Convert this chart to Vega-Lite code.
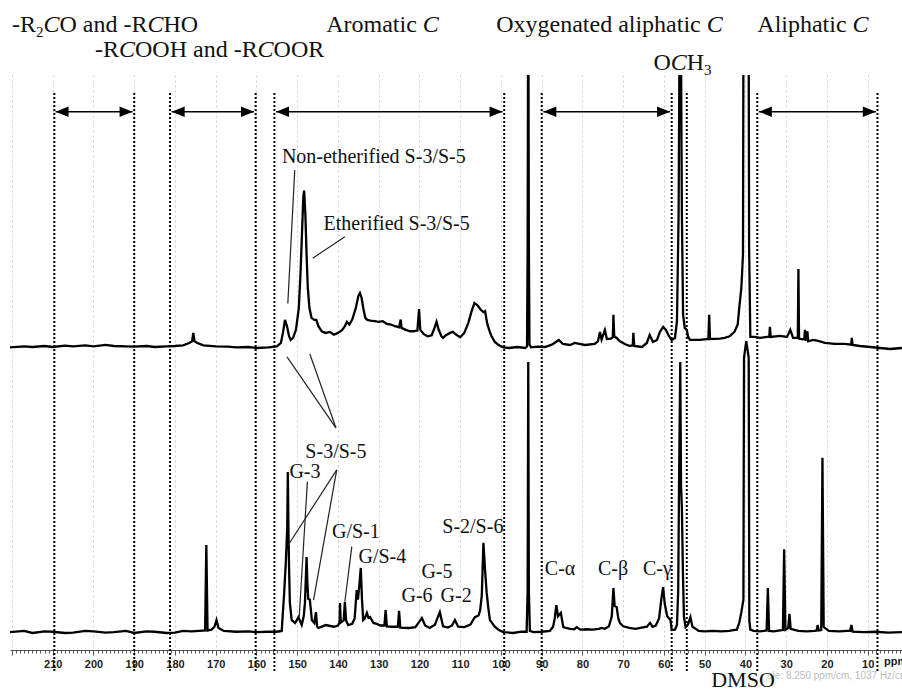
{
  "$schema": "https://vega.github.io/schema/vega-lite/v6.json",
  "width": 892,
  "height": 575,
  "padding": {"left": 10, "top": 75, "right": 0, "bottom": 41},
  "autosize": {"type": "none"},
  "background": "white",
  "config": {"view": {"stroke": null}},
  "datasets": {
    "top": [
      {"ppm":220.5,"v":0.2},{"ppm":217,"v":0.5},{"ppm":215,"v":0.3},{"ppm":212,"v":0.6},{"ppm":210,"v":0.3},{"ppm":207,"v":0.7},{"ppm":205,"v":0.5},{"ppm":202,"v":0.8},{"ppm":200,"v":0.5},{"ppm":197,"v":0.9},{"ppm":195,"v":0.6},{"ppm":192,"v":0.5},{"ppm":190,"v":0.4},{"ppm":187,"v":0.6},{"ppm":185,"v":0.3},{"ppm":182,"v":0.5},{"ppm":180,"v":0.6},{"ppm":178,"v":0.8},{"ppm":176.5,"v":1.5},{"ppm":175.8,"v":2.0},{"ppm":175.5,"v":4.5},{"ppm":175.2,"v":2.0},{"ppm":174.5,"v":1.5},{"ppm":173,"v":0.8},{"ppm":170,"v":0.5},{"ppm":167,"v":0.4},{"ppm":165,"v":0.2},{"ppm":162,"v":0.3},{"ppm":160,"v":0.0},{"ppm":157,"v":0.2},{"ppm":155,"v":0.5},{"ppm":154,"v":1.5},{"ppm":153.5,"v":4.5},{"ppm":153.0,"v":8.4},{"ppm":152.5,"v":6.5},{"ppm":152.0,"v":3.5},{"ppm":151.6,"v":2.4},{"ppm":151.0,"v":3.0},{"ppm":150.3,"v":5.5},{"ppm":149.6,"v":12},{"ppm":149.2,"v":22},{"ppm":148.8,"v":35},{"ppm":148.5,"v":45},{"ppm":148.3,"v":47},{"ppm":148.0,"v":40},{"ppm":147.7,"v":28},{"ppm":147.4,"v":18},{"ppm":147.0,"v":12},{"ppm":146.5,"v":9},{"ppm":145.8,"v":8.4},{"ppm":145.3,"v":8.4},{"ppm":144.8,"v":6.5},{"ppm":144.0,"v":5.0},{"ppm":143.0,"v":4.5},{"ppm":142.0,"v":4.8},{"ppm":141.0,"v":4.0},{"ppm":140.0,"v":4.5},{"ppm":139.0,"v":5.3},{"ppm":138.3,"v":6.5},{"ppm":137.8,"v":7.8},{"ppm":137.2,"v":7.0},{"ppm":136.5,"v":8.5},{"ppm":135.6,"v":12},{"ppm":135.0,"v":15.5},{"ppm":134.6,"v":16.4},{"ppm":134.2,"v":15.0},{"ppm":133.8,"v":12},{"ppm":133.3,"v":9},{"ppm":132.8,"v":8.4},{"ppm":132.0,"v":8.2},{"ppm":131.0,"v":8.0},{"ppm":130.0,"v":7.8},{"ppm":129.0,"v":8.0},{"ppm":128.0,"v":7.2},{"ppm":127.0,"v":7.0},{"ppm":126.0,"v":6.5},{"ppm":125.0,"v":6.2},{"ppm":124.6,"v":8.5},{"ppm":124.4,"v":6.0},{"ppm":123.5,"v":5.5},{"ppm":122.3,"v":5.0},{"ppm":121.5,"v":5.0},{"ppm":120.5,"v":5.2},{"ppm":120.1,"v":11.6},{"ppm":119.8,"v":5.5},{"ppm":119.0,"v":4.2},{"ppm":118.0,"v":3.5},{"ppm":117.0,"v":3.8},{"ppm":116.3,"v":6.0},{"ppm":115.8,"v":7.8},{"ppm":115.3,"v":5.5},{"ppm":114.6,"v":3.5},{"ppm":114.2,"v":3.0},{"ppm":113.5,"v":3.8},{"ppm":112.5,"v":4.5},{"ppm":111.8,"v":4.8},{"ppm":111.0,"v":4.0},{"ppm":110.0,"v":3.2},{"ppm":109.0,"v":4.5},{"ppm":108.0,"v":7.5},{"ppm":107.2,"v":11},{"ppm":106.5,"v":13.4},{"ppm":105.8,"v":12.8},{"ppm":105.0,"v":11.5},{"ppm":104.3,"v":10.7},{"ppm":103.9,"v":11.0},{"ppm":103.4,"v":7.5},{"ppm":102.8,"v":5.0},{"ppm":102.3,"v":3.5},{"ppm":101.5,"v":1.8},{"ppm":100.5,"v":0.8},{"ppm":99.4,"v":0.2},{"ppm":98,"v":0.0},{"ppm":96,"v":0.3},{"ppm":94,"v":0.0},{"ppm":93.6,"v":0.5},{"ppm":93.45,"v":30},{"ppm":93.3,"v":120},{"ppm":93.15,"v":30},{"ppm":93.0,"v":1.0},{"ppm":92.6,"v":0.2},{"ppm":91,"v":0.4},{"ppm":89.2,"v":0.3},{"ppm":87.5,"v":1.0},{"ppm":85.8,"v":2.4},{"ppm":84.8,"v":1.2},{"ppm":83.1,"v":0.9},{"ppm":81.9,"v":1.5},{"ppm":79.4,"v":0.9},{"ppm":77.0,"v":1.2},{"ppm":76.2,"v":2.0},{"ppm":75.7,"v":4.8},{"ppm":75.3,"v":2.5},{"ppm":74.5,"v":5.4},{"ppm":74.0,"v":2.7},{"ppm":73.0,"v":2.8},{"ppm":72.55,"v":3.2},{"ppm":72.4,"v":9.9},{"ppm":72.2,"v":3.5},{"ppm":71.6,"v":3.0},{"ppm":70.8,"v":2.0},{"ppm":69.6,"v":1.2},{"ppm":68.4,"v":0.6},{"ppm":67.65,"v":0.8},{"ppm":67.5,"v":4.5},{"ppm":67.3,"v":0.6},{"ppm":65.4,"v":0.3},{"ppm":64.2,"v":1.5},{"ppm":63.5,"v":3.9},{"ppm":62.7,"v":1.8},{"ppm":61.7,"v":2.4},{"ppm":61.0,"v":4.8},{"ppm":60.2,"v":6.3},{"ppm":59.5,"v":5.4},{"ppm":58.8,"v":3.6},{"ppm":58.1,"v":2.4},{"ppm":57.3,"v":3.0},{"ppm":56.8,"v":8},{"ppm":56.4,"v":40},{"ppm":56.1,"v":110},{"ppm":55.9,"v":110},{"ppm":55.6,"v":40},{"ppm":55.3,"v":10},{"ppm":54.9,"v":6.0},{"ppm":54.4,"v":5.4},{"ppm":54.1,"v":3.5},{"ppm":53.6,"v":2.4},{"ppm":51.2,"v":2.4},{"ppm":49.1,"v":2.7},{"ppm":48.9,"v":9.9},{"ppm":48.7,"v":2.7},{"ppm":46.3,"v":2.8},{"ppm":45.1,"v":3.0},{"ppm":43.9,"v":3.5},{"ppm":42.7,"v":4.8},{"ppm":41.9,"v":7},{"ppm":41.5,"v":12.2},{"ppm":41.0,"v":18},{"ppm":40.6,"v":28},{"ppm":40.4,"v":150},{"ppm":39.3,"v":150},{"ppm":39.1,"v":30},{"ppm":38.8,"v":3.3},{"ppm":37.7,"v":3.3},{"ppm":36.4,"v":3.0},{"ppm":34.7,"v":3.3},{"ppm":34.15,"v":3.3},{"ppm":34.0,"v":6.3},{"ppm":33.8,"v":3.3},{"ppm":31.5,"v":3.6},{"ppm":29.8,"v":3.3},{"ppm":29.0,"v":5.4},{"ppm":28.3,"v":3.0},{"ppm":27.15,"v":3.0},{"ppm":27.0,"v":23.6},{"ppm":26.85,"v":2.8},{"ppm":26.0,"v":2.6},{"ppm":25.55,"v":2.7},{"ppm":25.4,"v":5.4},{"ppm":25.2,"v":2.5},{"ppm":24.95,"v":2.6},{"ppm":24.8,"v":5.0},{"ppm":24.6,"v":2.0},{"ppm":23.4,"v":2.4},{"ppm":22.4,"v":2.2},{"ppm":20.5,"v":1.5},{"ppm":18.1,"v":1.2},{"ppm":15.6,"v":1.2},{"ppm":14.05,"v":1.0},{"ppm":13.9,"v":3.0},{"ppm":13.7,"v":0.9},{"ppm":11.9,"v":0.6},{"ppm":9.4,"v":0.3},{"ppm":7.0,"v":0.0},{"ppm":4.5,"v":-0.3},{"ppm":1.6,"v":0.0}
    ],
    "bottom": [
      {"ppm":220.5,"v":0.2},{"ppm":217,"v":0.5},{"ppm":215,"v":0.0},{"ppm":212,"v":0.4},{"ppm":210,"v":0.3},{"ppm":207,"v":0.0},{"ppm":205,"v":0.1},{"ppm":202,"v":0.5},{"ppm":200,"v":0.4},{"ppm":197,"v":0.1},{"ppm":195,"v":0.2},{"ppm":192,"v":0.5},{"ppm":190,"v":0.0},{"ppm":187,"v":0.4},{"ppm":185,"v":0.3},{"ppm":182,"v":0.0},{"ppm":180,"v":0.1},{"ppm":178,"v":0.5},{"ppm":176,"v":0.4},{"ppm":174,"v":0.5},{"ppm":172.6,"v":0.6},{"ppm":172.3,"v":21.1},{"ppm":172.0,"v":0.6},{"ppm":171,"v":0.8},{"ppm":170.3,"v":1.5},{"ppm":169.8,"v":3.1},{"ppm":169.3,"v":1.2},{"ppm":168,"v":0.5},{"ppm":165,"v":0.3},{"ppm":162,"v":0.4},{"ppm":160,"v":0.2},{"ppm":157,"v":0.3},{"ppm":155,"v":0.3},{"ppm":153.8,"v":0.5},{"ppm":153.2,"v":9.6},{"ppm":152.8,"v":16.8},{"ppm":152.45,"v":25},{"ppm":152.3,"v":38.6},{"ppm":152.15,"v":25},{"ppm":152.0,"v":15.8},{"ppm":151.8,"v":7.2},{"ppm":151.35,"v":3.1},{"ppm":150.5,"v":2.4},{"ppm":149.7,"v":3.8},{"ppm":148.9,"v":1.9},{"ppm":148.4,"v":4},{"ppm":148.1,"v":7.2},{"ppm":147.7,"v":18.2},{"ppm":147.5,"v":12},{"ppm":147.3,"v":8.2},{"ppm":146.9,"v":8.0},{"ppm":146.4,"v":3.1},{"ppm":145.8,"v":2.4},{"ppm":145.4,"v":5.0},{"ppm":145.1,"v":1.5},{"ppm":144.8,"v":1.2},{"ppm":143,"v":1.9},{"ppm":141,"v":1.5},{"ppm":140,"v":1.8},{"ppm":139.6,"v":2.5},{"ppm":139.5,"v":7.2},{"ppm":139.3,"v":2.5},{"ppm":138.6,"v":3.0},{"ppm":138.3,"v":7.4},{"ppm":138.0,"v":3.0},{"ppm":137.5,"v":1.9},{"ppm":136.5,"v":2.2},{"ppm":135.9,"v":3.5},{"ppm":135.4,"v":10.3},{"ppm":135.1,"v":8},{"ppm":134.7,"v":12},{"ppm":134.4,"v":15.6},{"ppm":134.1,"v":8},{"ppm":133.8,"v":3.1},{"ppm":133.4,"v":3.5},{"ppm":132.9,"v":4.8},{"ppm":132.5,"v":3.6},{"ppm":132.1,"v":3.8},{"ppm":131.3,"v":2.4},{"ppm":130.5,"v":2.2},{"ppm":129.5,"v":1.8},{"ppm":128.6,"v":1.8},{"ppm":128.3,"v":5.5},{"ppm":128.0,"v":1.6},{"ppm":126.5,"v":1.5},{"ppm":125.3,"v":1.5},{"ppm":125.0,"v":5.3},{"ppm":124.7,"v":1.3},{"ppm":122.5,"v":1.2},{"ppm":121,"v":1.4},{"ppm":120.2,"v":2.5},{"ppm":119.4,"v":3.6},{"ppm":118.6,"v":1.8},{"ppm":117.5,"v":1.2},{"ppm":116.2,"v":2.0},{"ppm":115.0,"v":5.0},{"ppm":114.2,"v":1.6},{"ppm":113,"v":1.3},{"ppm":112,"v":1.8},{"ppm":111.3,"v":3.1},{"ppm":110.5,"v":1.5},{"ppm":109,"v":1.4},{"ppm":107.5,"v":2.0},{"ppm":106.4,"v":3.8},{"ppm":105.5,"v":4.2},{"ppm":105.1,"v":5.5},{"ppm":104.7,"v":9},{"ppm":104.3,"v":21.6},{"ppm":103.9,"v":15.1},{"ppm":103.5,"v":9.6},{"ppm":103.1,"v":6},{"ppm":102.7,"v":3.1},{"ppm":101.5,"v":1.5},{"ppm":100.5,"v":0.7},{"ppm":99.4,"v":0.2},{"ppm":97,"v":0.0},{"ppm":95,"v":0.3},{"ppm":93.7,"v":0.3},{"ppm":93.45,"v":10},{"ppm":93.3,"v":65},{"ppm":93.15,"v":10},{"ppm":92.9,"v":0.5},{"ppm":92,"v":0.2},{"ppm":90,"v":0.3},{"ppm":88,"v":0.5},{"ppm":87.2,"v":1.5},{"ppm":86.8,"v":3.5},{"ppm":86.4,"v":6.7},{"ppm":86.0,"v":4},{"ppm":85.3,"v":4.8},{"ppm":84.7,"v":1.4},{"ppm":84,"v":1.2},{"ppm":83,"v":1.0},{"ppm":82,"v":0.9},{"ppm":81.4,"v":1.4},{"ppm":80.5,"v":0.8},{"ppm":79,"v":0.9},{"ppm":77.5,"v":0.8},{"ppm":76,"v":1.0},{"ppm":75.3,"v":1.2},{"ppm":74.5,"v":1.0},{"ppm":73.5,"v":1.6},{"ppm":72.8,"v":4},{"ppm":72.4,"v":10.8},{"ppm":72.1,"v":6.5},{"ppm":71.6,"v":6.2},{"ppm":71.2,"v":3.5},{"ppm":70.8,"v":2.4},{"ppm":70,"v":1.6},{"ppm":68.5,"v":1.2},{"ppm":67,"v":1.0},{"ppm":65.5,"v":1.3},{"ppm":64.2,"v":1.5},{"ppm":63.4,"v":2.4},{"ppm":62.8,"v":1.5},{"ppm":62.0,"v":1.8},{"ppm":61.2,"v":3.5},{"ppm":60.6,"v":8.4},{"ppm":60.2,"v":11.0},{"ppm":59.8,"v":7},{"ppm":59.2,"v":4},{"ppm":58.4,"v":3.1},{"ppm":58.1,"v":0.7},{"ppm":57.3,"v":0.8},{"ppm":56.8,"v":2},{"ppm":56.5,"v":10},{"ppm":56.3,"v":35},{"ppm":56.0,"v":65},{"ppm":55.8,"v":35},{"ppm":55.6,"v":30},{"ppm":55.35,"v":15},{"ppm":55.1,"v":4},{"ppm":54.7,"v":1.4},{"ppm":54.1,"v":2.0},{"ppm":53.5,"v":3.8},{"ppm":53.0,"v":1.5},{"ppm":51.9,"v":0.8},{"ppm":51.5,"v":0.5},{"ppm":50,"v":0.4},{"ppm":48,"v":0.5},{"ppm":46,"v":0.4},{"ppm":44,"v":0.5},{"ppm":43,"v":0.7},{"ppm":42.1,"v":0.8},{"ppm":41.5,"v":2.5},{"ppm":41.0,"v":5},{"ppm":40.5,"v":8.0},{"ppm":40.35,"v":66},{"ppm":39.8,"v":70},{"ppm":39.2,"v":66},{"ppm":39.05,"v":3},{"ppm":38.8,"v":0.8},{"ppm":38,"v":0.5},{"ppm":36.5,"v":0.4},{"ppm":35.5,"v":0.5},{"ppm":34.8,"v":0.6},{"ppm":34.5,"v":10.8},{"ppm":34.2,"v":0.5},{"ppm":33,"v":0.4},{"ppm":31.5,"v":0.6},{"ppm":30.8,"v":0.7},{"ppm":30.5,"v":20.1},{"ppm":30.2,"v":0.8},{"ppm":29.5,"v":1.2},{"ppm":29.2,"v":4.6},{"ppm":28.9,"v":1.0},{"ppm":27,"v":0.5},{"ppm":25,"v":0.4},{"ppm":23,"v":0.5},{"ppm":22.5,"v":0.6},{"ppm":22.3,"v":1.9},{"ppm":22.0,"v":0.6},{"ppm":21.4,"v":0.7},{"ppm":21.1,"v":42.0},{"ppm":20.8,"v":1.5},{"ppm":20.5,"v":1.2},{"ppm":19.5,"v":0.5},{"ppm":17,"v":0.4},{"ppm":15,"v":0.5},{"ppm":14.3,"v":0.5},{"ppm":14.0,"v":1.9},{"ppm":13.7,"v":0.3},{"ppm":11,"v":0.2},{"ppm":8,"v":0.3},{"ppm":5,"v":0.1},{"ppm":1.6,"v":0.2}
    ],
    "dotted": [{"ppm":209.6},{"ppm":190.0},{"ppm":181.2},{"ppm":160.2},{"ppm":155.6},{"ppm":99.2},{"ppm":90.0},{"ppm":58.1},{"ppm":54.4},{"ppm":37.1},{"ppm":7.6}],
    "arrows": [
      {"x1":209.3,"x2":190.4,"v":70.5},
      {"x1":180.8,"x2":160.6,"v":70.5},
      {"x1":155.2,"x2":99.6,"v":70.5},
      {"x1":89.6,"x2":58.5,"v":70.5},
      {"x1":36.7,"x2":8.0,"v":70.5}
    ],
    "catReg": [
      {"ppm":219.99,"v":94.3,"t":"-R"},
      {"ppm":208.33,"v":94.3,"t":"O and -R"},
      {"ppm":182.81,"v":94.3,"t":"HO"},
      {"ppm":199.62,"v":86.9,"t":"-R"},
      {"ppm":189.80,"v":86.9,"t":"OOH and -R"},
      {"ppm":155.79,"v":86.9,"t":"OOR"},
      {"ppm":142.88,"v":94.3,"t":"Aromatic"},
      {"ppm":101.17,"v":94.3,"t":"Oxygenated aliphatic"},
      {"ppm":37.09,"v":94.3,"t":"Aliphatic"},
      {"ppm":62.59,"v":83.0,"t":"O"},
      {"ppm":54.42,"v":83.0,"t":"H"}
    ],
    "catIt": [
      {"ppm":212.26,"v":94.3,"t":"C"},
      {"ppm":186.74,"v":94.3,"t":"C"},
      {"ppm":193.73,"v":86.9,"t":"C"},
      {"ppm":159.72,"v":86.9,"t":"C"},
      {"ppm":119.18,"v":94.3,"t":"C"},
      {"ppm":49.48,"v":94.3,"t":"C"},
      {"ppm":13.70,"v":94.3,"t":"C"},
      {"ppm":58.35,"v":83.0,"t":"C"}
    ],
    "catSub": [
      {"ppm":214.10,"v":92.8,"t":"2"},
      {"ppm":50.17,"v":81.5,"t":"3"}
    ],
    "topNote": [
      {"ppm":131.2,"v":55.2,"t":"Non-etherified S-3/S-5"},
      {"ppm":125.6,"v":35.2,"t":"Etherified S-3/S-5"}
    ],
    "topPtr": [
      {"xa":150.6,"ya":53.1,"xb":152.3,"yb":13.3},
      {"xa":138.3,"ya":33.2,"xb":146.2,"yb":26.8}
    ],
    "botPtr": [
      {"xa":152.5,"ya":66.2,"xb":140.5,"yb":49.2},
      {"xa":146.9,"ya":66.9,"xb":140.5,"yb":49.2},
      {"xa":140.3,"ya":39.1,"xb":152.2,"yb":21.1},
      {"xa":140.3,"ya":39.1,"xb":146.0,"yb":7.9},
      {"xa":147.5,"ya":36.3,"xb":149.5,"yb":3.9},
      {"xa":136.6,"ya":20.7,"xb":138.3,"yb":7.5}
    ],
    "botNote": [
      {"ppm":140.5,"v":42.0,"t":"S-3/S-5"},
      {"ppm":148.1,"v":37.2,"t":"G-3"},
      {"ppm":135.6,"v":22.8,"t":"G/S-1"},
      {"ppm":129.1,"v":16.8,"t":"G/S-4"},
      {"ppm":115.7,"v":13.2,"t":"G-5"},
      {"ppm":120.6,"v":7.4,"t":"G-6"},
      {"ppm":111.0,"v":7.4,"t":"G-2"},
      {"ppm":106.9,"v":24.0,"t":"S-2/S-6"},
      {"ppm":85.5,"v":13.9,"t":"C-α"},
      {"ppm":72.5,"v":13.9,"t":"C-β"},
      {"ppm":61.6,"v":13.9,"t":"C-γ"}
    ],
    "dmso": [{"ppm":40.6,"v":-12.9,"t":"DMSO"}],
    "unit": [{"ppm":6.0,"v":-7.0,"t":"ppm"}],
    "scaleNote": [{"ppm":34.7,"v":-10.3,"t":"ale: 8.250 ppm/cm, 1037 Hz/cm"}]
  },
  "layer": [
    {
      "layer": [
        {
          "data": {"name": "top"},
          "mark": {"type": "line", "color": "#000", "strokeWidth": 2.3, "clip": true},
          "encoding": {
            "x": {"field": "ppm", "type": "quantitative", "scale": {"domain": [1.58, 220.48], "reverse": true, "nice": false, "zero": false}},
            "y": {"field": "v", "type": "quantitative", "scale": {"domain": [-90.15, 81.49], "nice": false, "zero": false},
                  "axis": {"orient": "left", "values": [10,20,30,40,50,60,70,80], "grid": true, "gridColor": "#cfcfcf", "gridDash": [3,3], "gridWidth": 1, "labels": false, "ticks": false, "domain": false, "title": null}}
          }
        },
        {
          "data": {"name": "dotted"},
          "mark": {"type": "rule", "color": "#000", "strokeWidth": 2, "strokeDash": [2,2]},
          "encoding": {
            "x": {"field": "ppm", "type": "quantitative", "scale": {"domain": [1.58, 220.48], "reverse": true, "nice": false, "zero": false}},
            "y": {"datum": 76.1, "type": "quantitative", "scale": {"domain": [-90.15, 81.49], "nice": false, "zero": false}, "axis": null},
            "y2": {"datum": -96.7}
          }
        },
        {
          "data": {"name": "arrows"},
          "mark": {"type": "rule", "color": "#000", "strokeWidth": 1.6},
          "encoding": {
            "x": {"field": "x1", "type": "quantitative", "scale": {"domain": [1.58, 220.48], "reverse": true, "nice": false, "zero": false}},
            "x2": {"field": "x2"},
            "y": {"field": "v", "type": "quantitative", "scale": {"domain": [-90.15, 81.49], "nice": false, "zero": false}, "axis": null}
          }
        },
        {
          "data": {"name": "arrows"},
          "transform": [{"fold": ["x1", "x2"], "as": ["end", "pos"]}],
          "mark": {"type": "point", "filled": true, "opacity": 1, "color": "#000", "size": 169, "strokeWidth": 0},
          "encoding": {
            "x": {"field": "pos", "type": "quantitative", "scale": {"domain": [1.58, 220.48], "reverse": true, "nice": false, "zero": false}},
            "y": {"field": "v", "type": "quantitative", "scale": {"domain": [-90.15, 81.49], "nice": false, "zero": false}, "axis": null},
            "shape": {"field": "end", "type": "nominal", "scale": {"domain": ["x1", "x2"], "range": ["M0,0L2,-0.8L2,0.8Z", "M0,0L-2,-0.8L-2,0.8Z"]}, "legend": null}
          }
        },
        {
          "data": {"name": "topPtr"},
          "mark": {"type": "rule", "color": "#222", "strokeWidth": 1.2},
          "encoding": {
            "x": {"field": "xa", "type": "quantitative", "scale": {"domain": [1.58, 220.48], "reverse": true, "nice": false, "zero": false}},
            "x2": {"field": "xb"},
            "y": {"field": "ya", "type": "quantitative", "scale": {"domain": [-90.15, 81.49], "nice": false, "zero": false}, "axis": null},
            "y2": {"field": "yb"}
          }
        },
        {
          "data": {"name": "catReg"},
          "mark": {"type": "text", "font": "Liberation Serif", "fontSize": 24, "color": "#111", "align": "left", "baseline": "alphabetic"},
          "encoding": {
            "x": {"field": "ppm", "type": "quantitative", "scale": {"domain": [1.58, 220.48], "reverse": true, "nice": false, "zero": false}},
            "y": {"field": "v", "type": "quantitative", "scale": {"domain": [-90.15, 81.49], "nice": false, "zero": false}, "axis": null},
            "text": {"field": "t"}
          }
        },
        {
          "data": {"name": "catIt"},
          "mark": {"type": "text", "font": "Liberation Serif", "fontSize": 24, "fontStyle": "italic", "color": "#111", "align": "left", "baseline": "alphabetic"},
          "encoding": {
            "x": {"field": "ppm", "type": "quantitative", "scale": {"domain": [1.58, 220.48], "reverse": true, "nice": false, "zero": false}},
            "y": {"field": "v", "type": "quantitative", "scale": {"domain": [-90.15, 81.49], "nice": false, "zero": false}, "axis": null},
            "text": {"field": "t"}
          }
        },
        {
          "data": {"name": "catSub"},
          "mark": {"type": "text", "font": "Liberation Serif", "fontSize": 15, "color": "#111", "align": "left", "baseline": "alphabetic"},
          "encoding": {
            "x": {"field": "ppm", "type": "quantitative", "scale": {"domain": [1.58, 220.48], "reverse": true, "nice": false, "zero": false}},
            "y": {"field": "v", "type": "quantitative", "scale": {"domain": [-90.15, 81.49], "nice": false, "zero": false}, "axis": null},
            "text": {"field": "t"}
          }
        },
        {
          "data": {"name": "topNote"},
          "mark": {"type": "text", "font": "Liberation Serif", "fontSize": 20, "color": "#111", "align": "center", "baseline": "alphabetic"},
          "encoding": {
            "x": {"field": "ppm", "type": "quantitative", "scale": {"domain": [1.58, 220.48], "reverse": true, "nice": false, "zero": false}},
            "y": {"field": "v", "type": "quantitative", "scale": {"domain": [-90.15, 81.49], "nice": false, "zero": false}, "axis": null},
            "text": {"field": "t"}
          }
        }
      ]
    },
    {
      "layer": [
        {
          "data": {"name": "bottom"},
          "mark": {"type": "line", "color": "#000", "strokeWidth": 2.3, "clip": true},
          "encoding": {
            "x": {"field": "ppm", "type": "quantitative", "scale": {"domain": [1.58, 220.48], "reverse": true, "nice": false, "zero": false},
                  "axis": {"tickCount": 219, "format": "d", "labelExpr": "datum.value % 10 === 0 && datum.value <= 210 ? datum.label : ''", "labelOverlap": false, "labelFlush": false, "labelBound": false, "tickSize": {"condition": {"test": "datum.value % 10 === 0", "value": 5}, "value": 3}, "tickColor": "#555", "tickWidth": 1, "domainColor": "#555", "labelFont": "Liberation Sans", "labelFontSize": 11, "labelFontWeight": "bold", "labelColor": "#222", "labelPadding": 3, "grid": true, "gridColor": "#cfcfcf", "gridDash": [2,3], "gridOpacity": {"condition": {"test": "datum.value % 10 === 0", "value": 1}, "value": 0}, "title": null}},
            "y": {"field": "v", "type": "quantitative", "scale": {"domain": [-4.08, 133.8], "nice": false, "zero": false},
                  "axis": {"orient": "right", "values": [10,20,30,40,50,60], "grid": true, "gridColor": "#cfcfcf", "gridDash": [3,3], "gridWidth": 1, "labels": false, "ticks": false, "domain": false, "title": null}}
          }
        },
        {
          "data": {"name": "botPtr"},
          "mark": {"type": "rule", "color": "#222", "strokeWidth": 1.2},
          "encoding": {
            "x": {"field": "xa", "type": "quantitative", "scale": {"domain": [1.58, 220.48], "reverse": true, "nice": false, "zero": false}},
            "x2": {"field": "xb"},
            "y": {"field": "ya", "type": "quantitative", "scale": {"domain": [-4.08, 133.8], "nice": false, "zero": false}, "axis": null},
            "y2": {"field": "yb"}
          }
        },
        {
          "data": {"name": "botNote"},
          "mark": {"type": "text", "font": "Liberation Serif", "fontSize": 20, "color": "#111", "align": "center", "baseline": "alphabetic"},
          "encoding": {
            "x": {"field": "ppm", "type": "quantitative", "scale": {"domain": [1.58, 220.48], "reverse": true, "nice": false, "zero": false}},
            "y": {"field": "v", "type": "quantitative", "scale": {"domain": [-4.08, 133.8], "nice": false, "zero": false}, "axis": null},
            "text": {"field": "t"}
          }
        },
        {
          "data": {"name": "scaleNote"},
          "mark": {"type": "text", "font": "Liberation Sans", "fontSize": 10, "color": "#bbbbbb", "align": "left", "baseline": "middle"},
          "encoding": {
            "x": {"field": "ppm", "type": "quantitative", "scale": {"domain": [1.58, 220.48], "reverse": true, "nice": false, "zero": false}},
            "y": {"field": "v", "type": "quantitative", "scale": {"domain": [-4.08, 133.8], "nice": false, "zero": false}, "axis": null},
            "text": {"field": "t"}
          }
        },
        {
          "data": {"name": "dmso"},
          "mark": {"type": "text", "font": "Liberation Serif", "fontSize": 22, "color": "#111", "align": "center", "baseline": "alphabetic"},
          "encoding": {
            "x": {"field": "ppm", "type": "quantitative", "scale": {"domain": [1.58, 220.48], "reverse": true, "nice": false, "zero": false}},
            "y": {"field": "v", "type": "quantitative", "scale": {"domain": [-4.08, 133.8], "nice": false, "zero": false}, "axis": null},
            "text": {"field": "t"}
          }
        },
        {
          "data": {"name": "unit"},
          "mark": {"type": "text", "font": "Liberation Sans", "fontSize": 11, "fontWeight": "bold", "color": "#222", "align": "left", "baseline": "middle"},
          "encoding": {
            "x": {"field": "ppm", "type": "quantitative", "scale": {"domain": [1.58, 220.48], "reverse": true, "nice": false, "zero": false}},
            "y": {"field": "v", "type": "quantitative", "scale": {"domain": [-4.08, 133.8], "nice": false, "zero": false}, "axis": null},
            "text": {"field": "t"}
          }
        }
      ]
    }
  ],
  "resolve": {"scale": {"y": "independent"}, "axis": {"y": "independent"}}
}
